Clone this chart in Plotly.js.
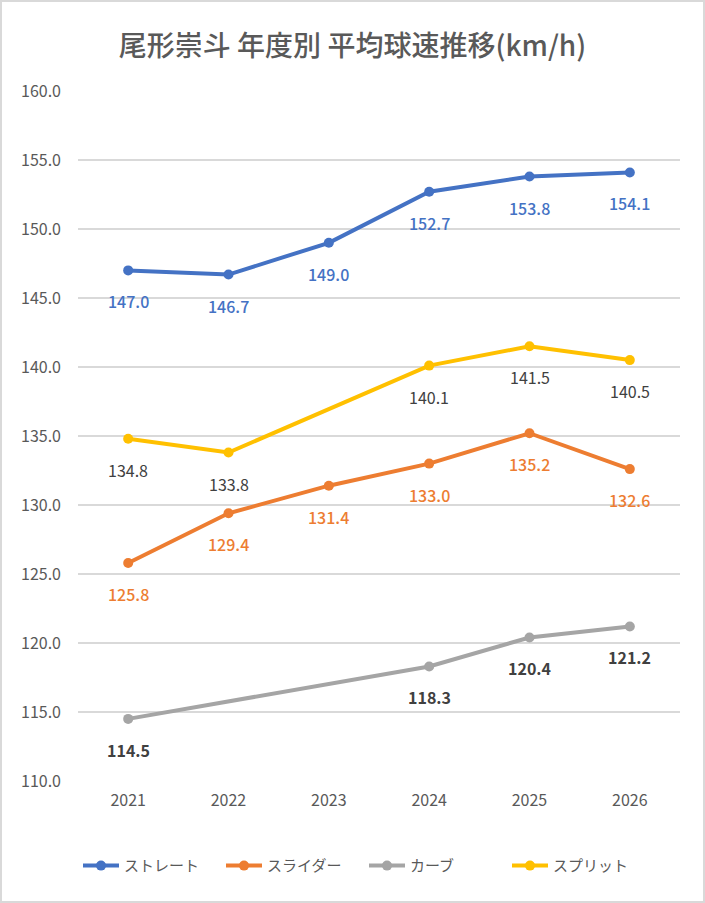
<!DOCTYPE html>
<html>
<head>
<meta charset="utf-8">
<script src="https://cdn.plot.ly/plotly-3.0.1.min.js"></script>
<style>
  body { margin: 0; background: #fff; }
  #wrap { position: relative; width: 705px; height: 903px; }
  #chart { width: 705px; height: 903px; }
  #frame { position: absolute; left: 0; top: 0; width: 705px; height: 903px;
           box-sizing: border-box; border: 2px solid #d9d9d9; pointer-events: none; }
</style>
</head>
<body>
<div id="wrap">
  <div id="chart"></div>
  <div id="frame"></div>
</div>
<script>
const years = ["2021", "2022", "2023", "2024", "2025", "2026"];

const straight = [147.0, 146.7, 149.0, 152.7, 153.8, 154.1];
const slider = [125.8, 129.4, 131.4, 133.0, 135.2, 132.6];
const curve = [114.5, null, null, 118.3, 120.4, 121.2];
const split = [134.8, 133.8, null, 140.1, 141.5, 140.5];

const yTicks = [110, 115, 120, 125, 130, 135, 140, 145, 150, 155, 160];

const font = "'Noto Sans CJK JP', 'Noto Sans', sans-serif";

// series: name, values, colour, label colour, label weight
const series = [
    { name: "ストレート", y: straight, color: "#4472C4", label: "#4472C4", weight: 500 },
    { name: "スライダー", y: slider, color: "#ED7D31", label: "#ED7D31", weight: 500 },
    { name: "カーブ", y: curve, color: "#A5A5A5", label: "#404040", weight: 600 },
    { name: "スプリット", y: split, color: "#FFC000", label: "#404040", weight: 400 }
];

const traces = series.map(s => ({
    x: years,
    y: s.y,
    name: s.name,
    mode: "lines+markers",
    connectgaps: true,
    line: { color: s.color, width: 4 },
    marker: { color: s.color, size: 10 },
    hoverinfo: "skip"
}));

// data labels under each point (x given as category index)
const annotations = [];
series.forEach(s => {
    s.y.forEach((v, i) => {
        if (v === null) return;
        annotations.push({
            x: i,
            y: v,
            text: v.toFixed(1),
            showarrow: false,
            yshift: -31,
            font: { family: font, size: 16, color: s.label, weight: s.weight }
        });
    });
});

Plotly.newPlot("chart", traces, {
    width: 705,
    height: 903,
    margin: { l: 78, r: 25, t: 91, b: 122 },
    paper_bgcolor: "#ffffff",
    plot_bgcolor: "#ffffff",
    font: { family: font, color: "#595959" },
    title: {
        text: "尾形崇斗 年度別 平均球速推移(km/h)",
        x: 0.5,
        xanchor: "center",
        y: 1 - 46 / 903,
        yanchor: "middle",
        font: { family: font, size: 28, color: "#595959", weight: 500 }
    },
    xaxis: {
        type: "category",
        range: [-0.5, 5.5],
        showgrid: false,
        zeroline: false,
        showline: false,
        ticks: "",
        tickfont: { family: font, size: 16, color: "#595959" },
        ticklabelstandoff: 8
    },
    yaxis: {
        range: [110, 160],
        tickvals: yTicks,
        ticktext: yTicks.map(v => v.toFixed(1)),
        showgrid: true,
        gridcolor: "#d9d9d9",
        gridwidth: 1.3,
        zeroline: false,
        showline: false,
        ticks: "",
        tickfont: { family: font, size: 16, color: "#595959" },
        ticklabelstandoff: 16
    },
    showlegend: true,
    legend: {
        orientation: "h",
        x: 0,
        xanchor: "left",
        y: -0.123,
        yanchor: "middle",
        font: { family: font, size: 15, color: "#595959" },
        itemwidth: 36,
        entrywidth: 92,
        entrywidthmode: "pixels",
        traceorder: "normal"
    },
    annotations: annotations
}, { displayModeBar: false, staticPlot: true });
</script>
</body>
</html>
